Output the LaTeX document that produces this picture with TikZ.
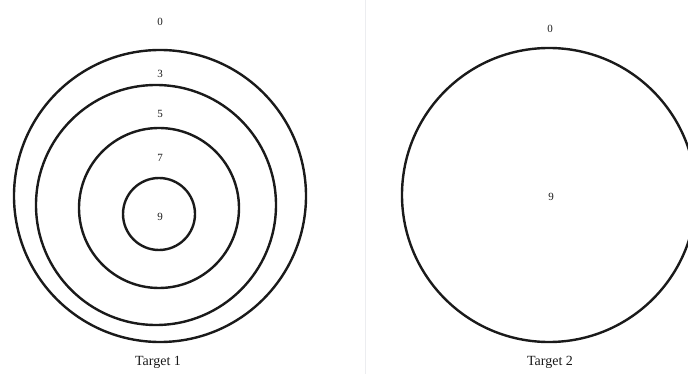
\documentclass[tikz,border=0pt]{standalone}
\usepackage{fontspec}
\setmainfont{Liberation Serif}
\usepackage{tikz}
\usetikzlibrary{positioning}
\definecolor{inkBlack}{HTML}{1a1a1a}
\definecolor{paleGrey}{HTML}{ecedf0}
\tikzset{
  ring/.style={draw=inkBlack,line width=2.4pt},
  score/.style={text=inkBlack,font=\fontsize{11}{13}\selectfont,inner sep=1pt},
  caption/.style={text=inkBlack,font=\fontsize{14}{16}\selectfont,inner sep=1pt}
}

\begin{document}
\begin{tikzpicture}[x=1pt,y=-1pt]
\useasboundingbox (0,0) rectangle (688,374);
% faint divider between the two targets
\draw[paleGrey,line width=1pt] (365,0) -- (365,374);
% Target 1
\draw[ring] (160,196) circle[radius=146];
\draw[ring] (156,205) circle[radius=120];
\draw[ring] (159,208) circle[radius=80];
\draw[ring] (159,214) circle[radius=36];
\node[score] (oneZero) at (160,22) {0};
\node[score] (oneThree) at (160,74) {3};
\node[score] (oneFive) at (160,114) {5};
\node[score] (oneSeven) at (160,158) {7};
\node[score] (oneNine) at (160,217) {9};
\node[caption] (oneCap) at (158,362) {Target 1};
% Target 2
\draw[ring] (549,195) circle[radius=147];
\node[score] (twoZero) at (550,29) {0};
\node[score] (twoNine) at (551,197) {9};
\node[caption] (twoCap) at (550,362) {Target 2};
\end{tikzpicture}
\end{document}
